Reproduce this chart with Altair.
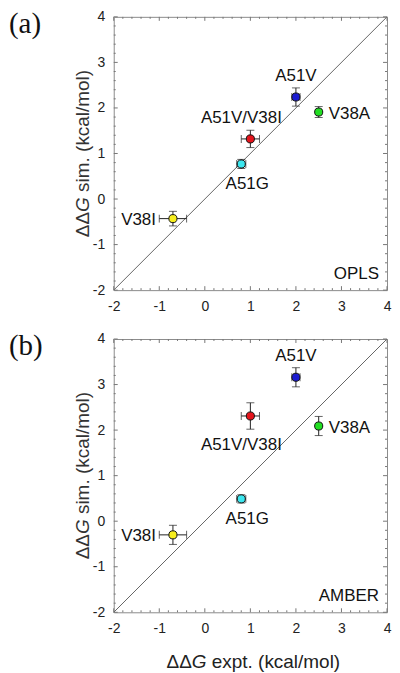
import altair as alt
import pandas as pd

# ---- data ----
mutants = ["V38I", "A51G", "A51V/V38I", "A51V", "V38A"]
expt = [-0.7, 0.8, 1.0, 2.0, 2.5]
expt_err = [0.30, 0.10, 0.20, 0.09, 0.05]

opls_sim = [-0.43, 0.77, 1.32, 2.24, 1.91]
opls_err = [0.16, 0.10, 0.19, 0.20, 0.12]

amber_sim = [-0.30, 0.49, 2.31, 3.16, 2.09]
amber_err = [0.21, 0.09, 0.29, 0.21, 0.21]

point_colors = ["#f6ee1e", "#3ce6ee", "#e4141c", "#1c1cd2", "#22de22"]

axis_major = [-2, -1, 0, 1, 2, 3, 4]
axis_minor = [-1.8, -1.6, -1.4, -1.2, -0.8, -0.6, -0.4, -0.2,
              0.2, 0.4, 0.6, 0.8, 1.2, 1.4, 1.6, 1.8,
              2.2, 2.4, 2.6, 2.8, 3.2, 3.4, 3.6, 3.8]
diag_ends = [-2, 4]

# title pieces (ΔΔ + italic G + rest)
title_delta = "ΔΔ"
title_g = "G"
y_title_rest = "sim. (kcal/mol)"
x_title_rest = "expt. (kcal/mol)"

# ---- styling ----
W = 274
H = 274
FONT = "Liberation Sans"
DOMAIN = [-2, 4]
TFS = 19  # axis-title font size
W_DD = 0.667 * 2 * TFS
W_G = 0.778 * TFS
W_SP = 0.278 * TFS

placements_a = {"V38I": "left", "A51G": "below", "A51V/V38I": "aboveleft",
                "A51V": "above", "V38A": "right"}
placements_b = {"V38I": "left", "A51G": "below", "A51V/V38I": "belowleft",
                "A51V": "above", "V38A": "right"}
PLACE = {
    "above": dict(align="center", dx=0, dy=-21),
    "below": dict(align="center", dx=6, dy=20),
    "right": dict(align="left", dx=10, dy=2),
    "left": dict(align="right", dx=-17, dy=1),
    "aboveleft": dict(align="center", dx=-9, dy=-21),
    "belowleft": dict(align="center", dx=-9, dy=29),
}


def axis():
    return alt.Axis(values=axis_major, tickSize=0, domain=False, grid=False,
                    labelFont=FONT, labelFontSize=14, labelColor="#222",
                    labelExpr="'' + datum.value",
                    labelPadding=9, labelFlush=False, title=None)


def X(field):
    return alt.X(field, type="quantitative",
                 scale=alt.Scale(domain=DOMAIN, nice=False, zero=False), axis=axis())


def Y(field):
    return alt.Y(field, type="quantitative",
                 scale=alt.Scale(domain=DOMAIN, nice=False, zero=False), axis=axis())


def text_piece(txt, x, y, angle=0, italic=False, color="#222"):
    kw = dict(font=FONT, fontSize=TFS, color=color, align="left", baseline="middle")
    if angle:
        kw["angle"] = angle
    if italic:
        kw["fontStyle"] = "italic"
    return alt.Chart(pd.DataFrame({"t": [txt]})).mark_text(**kw).encode(
        text="t:N", x=alt.value(x), y=alt.value(y))


def panel(sim, err, letter, tag, placements, with_xtitle):
    df = pd.DataFrame({"name": mutants, "x": expt, "xe": expt_err, "y": sim, "ye": err})
    df["xlo"] = df["x"] - df["xe"]
    df["xhi"] = df["x"] + df["xe"]
    df["ylo"] = df["y"] - df["ye"]
    df["yhi"] = df["y"] + df["ye"]
    df["place"] = [placements[n] for n in mutants]

    diag = alt.Chart(pd.DataFrame({"x": diag_ends, "y": diag_ends})).mark_line(
        color="#555", strokeWidth=0.9).encode(x=X("x"), y=Y("y"))

    layers = [diag]
    for vals, ln in ((axis_major, 4), (axis_minor, 2)):
        tc = alt.Chart(pd.DataFrame({"v": vals})).mark_rule(color="#777", strokeWidth=1)
        layers += [
            tc.encode(x=X("v"), y=alt.value(H), y2=alt.value(H - ln)),
            tc.encode(x=X("v"), y=alt.value(0), y2=alt.value(ln)),
            tc.encode(y=Y("v"), x=alt.value(0), x2=alt.value(ln)),
            tc.encode(y=Y("v"), x=alt.value(W), x2=alt.value(W - ln)),
        ]

    base = alt.Chart(df)
    bar = dict(color="#222", strokeWidth=1)
    cap = dict(color="#222", thickness=1, size=8)
    layers += [
        base.mark_rule(**bar).encode(x=X("xlo"), x2="xhi", y=Y("y")),
        base.mark_rule(**bar).encode(x=X("x"), y=Y("ylo"), y2="yhi"),
        base.mark_tick(orient="vertical", **cap).encode(x=X("xlo"), y=Y("y")),
        base.mark_tick(orient="vertical", **cap).encode(x=X("xhi"), y=Y("y")),
        base.mark_tick(orient="horizontal", **cap).encode(x=X("x"), y=Y("ylo")),
        base.mark_tick(orient="horizontal", **cap).encode(x=X("x"), y=Y("yhi")),
        base.mark_circle(size=66, stroke="#111", strokeWidth=1, opacity=1).encode(
            x=X("x"), y=Y("y"),
            fill=alt.Fill("name:N", scale=alt.Scale(domain=mutants, range=point_colors),
                          legend=None)),
    ]
    for key, p in PLACE.items():
        if key not in placements.values():
            continue
        layers.append(
            base.transform_filter(alt.datum.place == key).mark_text(
                font=FONT, fontSize=17, color="#111", baseline="middle", **p
            ).encode(x=X("x"), y=Y("y"), text="name:N"))

    # panel letter and force-field tag
    layers.append(alt.Chart(pd.DataFrame({"t": [letter]})).mark_text(
        font="Liberation Serif", fontSize=29, color="#111", align="left", baseline="middle"
    ).encode(text="t:N", x=alt.value(-105), y=alt.value(7)))
    layers.append(alt.Chart(pd.DataFrame({"t": [tag]})).mark_text(
        font=FONT, fontSize=17, color="#111", align="right", baseline="middle"
    ).encode(text="t:N", x=alt.value(W - 8), y=alt.value(H - 16)))

    # y title (rotated, reads upward)
    ytot = W_DD + W_G + W_SP + 6.444 * TFS
    y0 = H / 2 + ytot / 2
    yx = -31
    layers += [
        text_piece(title_delta, yx, y0, angle=270, color="#333"),
        text_piece(title_g, yx, y0 - W_DD, angle=270, italic=True, color="#333"),
        text_piece(y_title_rest, yx, y0 - W_DD - W_G - W_SP, angle=270, color="#333"),
    ]
    if with_xtitle:
        xtot = W_DD + W_G + W_SP + 6.779 * TFS
        x0 = W / 2 - xtot / 2 + 3
        xy = H + 50
        layers += [
            text_piece(title_delta, x0, xy),
            text_piece(title_g, x0 + W_DD, xy, italic=True),
            text_piece(x_title_rest, x0 + W_DD + W_G + W_SP, xy),
        ]

    return alt.layer(*layers).properties(width=W, height=H)


pa = panel(opls_sim, opls_err, "(a)", "OPLS", placements_a, False)
pb = panel(amber_sim, amber_err, "(b)", "AMBER", placements_b, True)

chart = alt.vconcat(pa, pb, spacing=17).properties(
    padding={"left": 0, "top": 0, "right": 0, "bottom": 0}
).configure_view(stroke="#8c8c8c", strokeWidth=1)

chart.save("out.html", embed_options={"renderer": "svg", "actions": False})
